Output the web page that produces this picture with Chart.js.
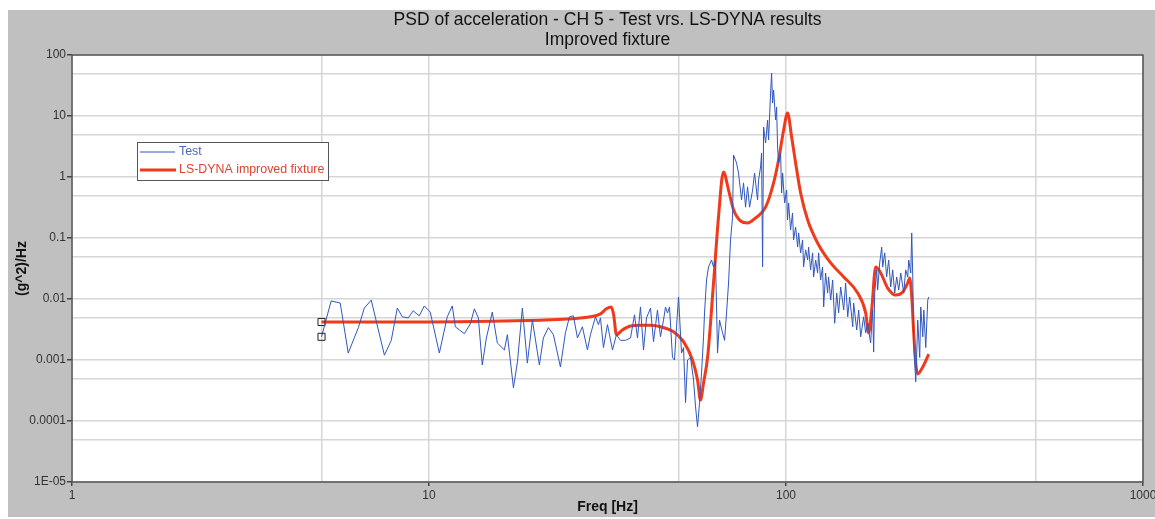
<!DOCTYPE html>
<html>
<head>
<meta charset="utf-8">
<script src="https://cdn.jsdelivr.net/npm/chart.js@4.4.1/dist/chart.umd.min.js"></script>
<style>
  html, body { margin: 0; padding: 0; background: #fff; }
  canvas { display: block; }
</style>
</head>
<body>
<canvas id="chart" width="1155" height="519"></canvas>
<script>
// measured test PSD (Hz, g^2/Hz)
const testFreq = [5.0, 5.32, 5.64, 5.94, 6.34, 6.59, 6.89, 7.50, 7.84, 8.15, 8.42, 8.75, 9.03, 9.39, 9.70, 10.08, 10.69, 11.25, 11.62, 11.85, 12.56, 13.05, 13.40, 13.75, 14.10, 14.48, 15.04,
  15.54, 16.26, 16.58, 17.24, 17.69, 18.26, 18.86, 19.48, 20.38, 20.91, 21.60, 22.31, 23.34, 24.11, 24.74, 25.38, 26.05, 26.90, 27.79, 28.33, 29.26, 29.83, 30.22, 30.81, 31.62, 32.66, 33.50, 34.38, 35.51, 36.68, 37.64, 38.37, 39.12, 39.89, 40.67, 41.73, 42.55, 43.65,
  44.51, 45.38, 45.97, 46.57, 47.17, 48.09, 48.72, 49.35, 50.0, 50.98, 51.64, 52.31, 52.99, 54.02, 55.08, 55.80, 56.52, 57.26, 58.00, 58.75, 59.13, 59.90, 60.67, 61.86, 62.66, 63.47, 64.30, 65.13, 66.41, 67.28, 68.15, 69.04, 69.93, 70.84, 71.30, 72.69, 73.63, 75.07, 76.05, 77.04, 78.04, 79.07, 80.61, 81.66, 83.25, 83.79, 84.88,
  85.43, 85.98, 86.54, 87.66, 88.80, 89.38, 90.54, 91.12, 91.71, 92.31, 93.51, 94.11, 94.72, 95.33, 96.58, 97.20, 97.84, 99.11, 100.4, 101.0, 101.7, 103.0, 104.3, 105.0, 106.4, 107.8, 108.5, 109.9, 111.3, 112.0, 113.5, 115.0, 115.7, 117.2, 118.7, 119.5, 121.1, 122.6, 123.4, 125.0, 126.6, 127.5, 129.1, 130.8, 131.6, 133.4, 135.1, 136.9, 138.7, 140.4, 142.3,
  145.1, 146.9, 148.9, 150.8, 153.8, 154.7, 157.8, 159.8, 161.9, 165.0, 167.2, 169.3, 172.6, 174.9, 176.0, 177.2, 179.5, 180.6, 183.0, 185.4, 186.6, 189.0, 191.4, 193.9, 196.5, 199.0, 201.6, 204.2, 206.9, 209.6, 213.7, 216.4, 219.3, 220.7, 223.6, 225.0, 226.5, 227.9, 230.9, 232.4, 233.9, 236.9, 238.5, 241.6, 243.2, 246.3, 249.5, 251.1];
const testPsd = [0.0024, 0.0093, 0.0086, 0.0013, 0.0034, 0.0071, 0.0096, 0.0012, 0.0021, 0.0071, 0.0051, 0.0049, 0.0064, 0.0053, 0.0077, 0.0061, 0.0013, 0.0051, 0.0077, 0.0035, 0.0027, 0.0039, 0.0069, 0.0049, 0.00083, 0.0023, 0.0061,
  0.0019, 0.00146, 0.0026, 0.00035, 0.00093, 0.0071, 0.00089, 0.0045, 0.00083, 0.0023, 0.0034, 0.0026, 0.00077, 0.0028, 0.0051, 0.0053, 0.0023, 0.0035, 0.00146, 0.0026, 0.0051, 0.0038, 0.0049, 0.0016, 0.0038, 0.00146, 0.0026, 0.0021, 0.0021, 0.0023, 0.0055, 0.0023, 0.0074, 0.00146, 0.0049, 0.0071, 0.0020, 0.0066,
  0.0024, 0.0045, 0.0074, 0.0059, 0.0074, 0.0011, 0.0010, 0.0035, 0.0108, 0.0013, 0.0016, 0.00020, 0.0010, 0.0011, 0.00047, 0.00017, 0.00008, 0.00020, 0.00061, 0.0024, 0.0059, 0.0205, 0.0335, 0.0436, 0.0335, 0.0436, 0.0013, 0.0045, 0.0028, 0.0021, 0.0059, 0.0183, 0.093, 0.22, 2.29, 1.70, 1.16, 0.42, 0.80, 0.32, 0.69, 0.32, 0.61, 1.16, 0.42, 0.89, 1.46,
  2.47, 0.0335, 6.6, 3.61, 8.6, 4.04, 23.8, 50.7, 16.3, 26.7, 8.6, 14.0, 3.1, 1.70, 2.47, 0.547, 1.16, 0.375, 0.612, 0.197, 0.375, 0.135, 0.257, 0.093, 0.151, 0.071, 0.121, 0.057, 0.093, 0.0335, 0.064, 0.0436, 0.071, 0.030, 0.057, 0.023, 0.0436, 0.0267, 0.057, 0.0205, 0.0335, 0.0074, 0.0267, 0.0125, 0.023, 0.0096, 0.0205, 0.0040, 0.0125, 0.0059, 0.0157,
  0.0066, 0.0183, 0.0051, 0.0108, 0.0035, 0.0086, 0.0031, 0.0066, 0.0024, 0.0051, 0.0028, 0.0040, 0.0019, 0.0066, 0.00135, 0.0125, 0.030, 0.014, 0.039, 0.071, 0.0335, 0.057, 0.023, 0.0436, 0.0157, 0.030, 0.0125, 0.023, 0.014, 0.0267, 0.0125, 0.030, 0.023, 0.0436, 0.0267, 0.121, 0.023, 0.0019, 0.00044, 0.0013, 0.0045, 0.0011, 0.0074, 0.0024, 0.0066, 0.0016, 0.0096, 0.0108];

// LS-DYNA improved fixture
const dynaFreq = [5.0, 10.0, 15.0, 20.5, 24.4, 28.33, 30.22, 31.4, 32.4, 32.9, 33.5, 34.8, 36.68, 39.12, 41.73, 44.51, 48.4, 51.64, 54.7, 56.52,
  57.6, 58.75, 60.3, 62.66, 64.7, 66.8, 69.04, 71.3, 74.6, 78.04, 82.2, 87.66, 92.31, 95.33, 98.5, 101.0, 103.7, 106.4, 109.9, 115.0,
  122.6, 133.4, 145.1, 158.8, 167.2, 170.4, 173.8, 178.3, 184.2, 192.7, 202.9, 212.3, 219.3, 222.1, 225.0, 227.9, 230.9, 233.9, 241.6, 251.1];
const dynaPsd = [0.0042, 0.0042, 0.0043, 0.0045, 0.0047, 0.0051, 0.0057, 0.0069, 0.0074, 0.0055, 0.0026, 0.0031, 0.0036, 0.0037, 0.0037, 0.0035, 0.0029, 0.0020, 0.0010, 0.00047,
  0.00022, 0.00042, 0.0011, 0.0183, 0.22, 1.21, 0.61, 0.29, 0.19, 0.176, 0.213, 0.32, 0.80, 1.90, 5.89, 11.2, 4.53, 1.70, 0.547, 0.197,
  0.083, 0.039, 0.023, 0.0125, 0.0059, 0.0028, 0.0066, 0.0335, 0.0267, 0.0151, 0.0116, 0.013, 0.0183, 0.0221, 0.0108, 0.0028, 0.00089, 0.00059, 0.00077, 0.00125];

const xTickValues = [1, 10, 100, 1000];
const xTickLabels = ['1', '10', '100', '1000'];
const xGridExtra = [5, 50, 500];
const yTickValues = [1e-5, 1e-4, 1e-3, 0.01, 0.1, 1, 10, 100];
const yTickLabels = ['1E-05', '0.0001', '0.001', '0.01', '0.1', '1', '10', '100'];
const yGridExtra = [5e-5, 5e-4, 5e-3, 0.05, 0.5, 5, 50];

const seriesNames = ['Test', 'LS-DYNA improved fixture'];
const titleLines = ['PSD of acceleration - CH 5 - Test vrs. LS-DYNA results', 'Improved fixture'];
const xTitle = 'Freq [Hz]';
const yTitle = '(g^2)/Hz';

const FONT = "'Liberation Sans', Arial, sans-serif";
const BLUE = '#3057bd';
const RED = '#f03a1c';

function buildTicks(values, labels, extra) {
  const list = values.map((v, i) => ({ value: v, text: labels[i], major: true }))
    .concat(extra.map(v => ({ value: v, text: '', major: false })));
  return list.sort((a, b) => a.value - b.value);
}

const framePlugin = {
  id: 'frame',
  beforeDraw(chart) {
    const c = chart.ctx;
    const a = chart.chartArea;
    c.save();
    c.fillStyle = '#ffffff';
    c.fillRect(0, 0, chart.width, chart.height);
    c.fillStyle = '#c0c0c0';
    c.fillRect(8, 10, chart.width - 8, chart.height - 12);
    c.fillStyle = '#ffffff';
    c.fillRect(a.left, a.top, a.right - a.left, a.bottom - a.top);
    c.restore();
  },
  afterDraw(chart) {
    const c = chart.ctx;
    const a = chart.chartArea;
    c.save();
    // plot border
    c.strokeStyle = '#505050';
    c.lineWidth = 1.5;
    c.strokeRect(a.left, a.top, a.right - a.left, a.bottom - a.top);

    // axis titles
    c.fillStyle = '#111';
    c.font = 'bold 14px ' + FONT;
    c.textAlign = 'center';
    c.textBaseline = 'middle';
    c.fillText(xTitle, (a.left + a.right) / 2, 507);
    c.translate(22, (a.top + a.bottom) / 2);
    c.rotate(-Math.PI / 2);
    c.fillText(yTitle, 0, 0);
    c.restore();

    // legend box inside the plot
    c.save();
    const lx = a.left + 65, ly = a.top + 87, lw = 191, lh = 38;
    c.fillStyle = '#ffffff';
    c.fillRect(lx, ly, lw, lh);
    c.strokeStyle = '#555';
    c.lineWidth = 1;
    c.strokeRect(lx + 0.5, ly + 0.5, lw, lh);
    c.font = '12.4px ' + FONT;
    c.textAlign = 'left';
    c.textBaseline = 'middle';
    c.strokeStyle = BLUE;
    c.lineWidth = 1;
    c.beginPath();
    c.moveTo(lx + 3, ly + 10);
    c.lineTo(lx + 38, ly + 10);
    c.stroke();
    c.fillStyle = '#4a6ab4';
    c.fillText(seriesNames[0], lx + 42, ly + 10);
    c.strokeStyle = RED;
    c.lineWidth = 3;
    c.beginPath();
    c.moveTo(lx + 3, ly + 28);
    c.lineTo(lx + 39, ly + 28);
    c.stroke();
    c.fillStyle = '#d8452f';
    c.fillText(seriesNames[1], lx + 42, ly + 28);
    c.restore();
  }
};

const firstPointOnly = ctx => ctx.dataIndex === 0 ? 5 : 0;

new Chart(document.getElementById('chart'), {
  type: 'line',
  data: {
    datasets: [
      {
        label: seriesNames[0],
        data: testFreq.map((f, i) => ({ x: f, y: testPsd[i] })),
        borderColor: BLUE,
        borderWidth: 1,
        tension: 0,
        pointStyle: 'rect',
        pointRadius: firstPointOnly,
        pointBorderColor: '#222',
        pointBackgroundColor: 'rgba(0,0,0,0)',
        pointBorderWidth: 1
      },
      {
        label: seriesNames[1],
        data: dynaFreq.map((f, i) => ({ x: f, y: dynaPsd[i] })),
        borderColor: RED,
        borderWidth: 3,
        cubicInterpolationMode: 'monotone',
        pointStyle: 'rect',
        pointRadius: firstPointOnly,
        pointBorderColor: '#222',
        pointBackgroundColor: 'rgba(0,0,0,0)',
        pointBorderWidth: 1
      }
    ]
  },
  options: {
    responsive: false,
    animation: false,
    events: [],
    layout: { padding: { left: 0, right: 12, top: 0, bottom: 0 } },
    plugins: {
      legend: { display: false },
      tooltip: { enabled: false },
      title: {
        display: true,
        fullSize: false,
        text: titleLines,
        color: '#111',
        font: { size: 17.5, family: FONT, weight: 'normal', lineHeight: 1.15 },
        padding: { top: 10, bottom: 4.75 }
      }
    },
    scales: {
      x: {
        type: 'logarithmic',
        min: 1,
        max: 1000,
        afterBuildTicks: s => { s.ticks = buildTicks(xTickValues, xTickLabels, xGridExtra); },
        afterFit: s => { s.height = 37; s.paddingLeft = 0; s.paddingRight = 0; },
        ticks: {
          autoSkip: false,
          maxRotation: 0,
          padding: 2,
          color: '#333',
          font: { size: 12, family: FONT },
          callback: (v, i, ticks) => ticks[i].text
        },
        grid: {
          color: '#d6d6d6',
          lineWidth: 1.5,
          tickLength: 4,
          tickColor: ctx => ctx.tick && ctx.tick.major ? '#444' : 'rgba(0,0,0,0)'
        },
        border: { display: false }
      },
      y: {
        type: 'logarithmic',
        min: 1e-5,
        max: 100,
        afterBuildTicks: s => { s.ticks = buildTicks(yTickValues, yTickLabels, yGridExtra); },
        afterFit: s => { s.width = 72; s.paddingTop = 0; s.paddingBottom = 0; },
        ticks: {
          autoSkip: false,
          padding: 1,
          color: '#333',
          font: { size: 12, family: FONT },
          callback: (v, i, ticks) => ticks[i].text
        },
        grid: {
          color: '#d6d6d6',
          lineWidth: 1.5,
          tickLength: 5,
          tickColor: ctx => ctx.tick && ctx.tick.major ? '#444' : 'rgba(0,0,0,0)'
        },
        border: { display: false }
      }
    }
  },
  plugins: [framePlugin]
});
</script>
</body>
</html>
